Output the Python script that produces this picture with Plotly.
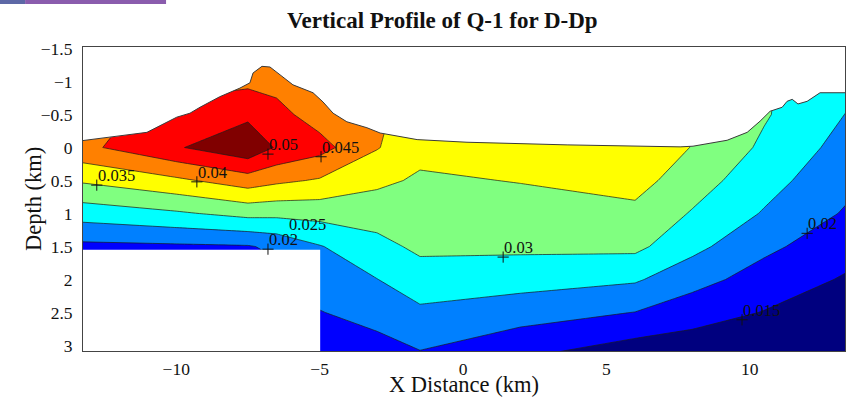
import plotly.graph_objects as go

# ---- Q^-1 section: node coordinates (km) and values ----
x_nodes = [-13.3, -10.0, -7.5, -6.5, -5.0, -3.0, -1.5, 2.0, 6.0, 8.0, 10.5, 13.35]
depth_nodes = [-1.55, -1.0, -0.5, 0.0, 0.5, 1.0, 1.5, 2.0, 2.5, 3.1]

q_row_m155 = [0.0420, 0.0420, 0.0420, 0.0420, 0.0405, 0.0405, 0.0380, 0.0370, 0.0390, 0.0352, 0.0310, 0.0280]
q_row_m100 = [0.0430, 0.0440, 0.0439, 0.0435, 0.0410, 0.0410, 0.0380, 0.0370, 0.0390, 0.0352, 0.0305, 0.0266]
q_row_m050 = [0.0440, 0.0460, 0.0489, 0.0465, 0.0428, 0.0410, 0.0375, 0.0370, 0.0390, 0.0352, 0.0305, 0.0249]
q_row_000 = [0.0437, 0.0495, 0.0538, 0.0495, 0.0468, 0.0403, 0.0365, 0.0365, 0.0388, 0.0348, 0.0291, 0.0232]
q_row_050 = [0.0356, 0.0390, 0.0426, 0.0410, 0.0395, 0.0361, 0.0343, 0.0352, 0.0368, 0.0323, 0.0269, 0.0214]
q_row_100 = [0.0272, 0.0293, 0.0315, 0.0313, 0.0317, 0.0321, 0.0325, 0.0329, 0.0338, 0.0296, 0.0246, 0.0195]
q_row_150 = [0.0188, 0.0192, 0.0196, 0.0211, 0.0247, 0.0285, 0.0310, 0.0310, 0.0312, 0.0264, 0.0211, 0.0170]
q_row_200 = [0.0120, 0.0120, 0.0130, 0.0180, 0.0223, 0.0249, 0.0277, 0.0270, 0.0256, 0.0218, 0.0179, 0.0145]
q_row_250 = [0.0100, 0.0100, 0.0110, 0.0160, 0.0198, 0.0218, 0.0241, 0.0222, 0.0199, 0.0172, 0.0148, 0.0120]
q_row_310 = [0.0080, 0.0080, 0.0090, 0.0140, 0.0172, 0.0180, 0.0198, 0.0162, 0.0124, 0.0120, 0.0111, 0.0090]
q_inv = [q_row_m155, q_row_m100, q_row_m050, q_row_000, q_row_050,
         q_row_100, q_row_150, q_row_200, q_row_250, q_row_310]

# contour levels and band colours (lowest band first)
level_start, level_end, level_step = 0.015, 0.0501, 0.005
band_colors = ["#00007F", "#0000FF", "#0080FF", "#00FFFF", "#80FF80",
               "#FFFF00", "#FF8000", "#FF0000", "#800000"]

# ground surface along the profile (x km, depth km)
topo_x = [-13.35, -12.21, -11.02, -9.98, -9.52, -9.17, -8.48, -7.78, -7.43, -7.32,
          -7.01, -6.73, -6.38, -5.93, -5.23, -4.88, -4.53, -4.05, -3.35, -2.89,
          -1.60, 0.14, 3.63, 7.57, 8.02, 9.21, 9.91, 10.36, 10.71, 11.13, 11.30,
          11.48, 11.68, 12.00, 12.45, 12.90, 13.40]
topo_d = [-0.10, -0.16, -0.23, -0.46, -0.52, -0.61, -0.77, -0.90, -0.98, -1.13,
          -1.23, -1.22, -1.10, -0.95, -0.83, -0.69, -0.52, -0.39, -0.30, -0.22,
          -0.12, -0.08, -0.04, -0.01, -0.02, -0.11, -0.23, -0.40, -0.55, -0.61, -0.70,
          -0.73, -0.66, -0.70, -0.83, -0.83, -0.83]

# region without coverage (left, below 1.55 km)
blank_x = [-13.4, -4.98]
blank_d = [1.55, 3.2]

# contour labels: text, anchor x, anchor depth, whether a '+' is drawn
label_text = ["0.035", "0.04", "0.05", "0.045", "0.025", "0.02", "0.03", "0.02", "0.015"]
label_x = [-12.77, -9.28, -6.80, -4.95, -6.10, -6.80, 1.40, 12.00, 9.73]
label_d = [0.57, 0.52, 0.10, 0.14, 1.31, 1.54, 1.66, 1.30, 2.61]
label_plus = [True, True, True, True, False, True, True, True, True]

x_ticks = [-10, -5, 0, 5, 10]
x_ticktext = ["\u221210", "\u22125", "0", "5", "10"]
y_ticks = [-1.5, -1, -0.5, 0, 0.5, 1, 1.5, 2, 2.5, 3]
y_ticktext = ["\u22121.5", "\u22121", "\u22120.5", "0", "0.5", "1", "1.5", "2", "2.5", "3"]

serif = "Liberation Serif, Times New Roman, serif"
n_bands = len(band_colors)
colorscale = [[i / (n_bands - 1), c] for i, c in enumerate(band_colors)]

fig = go.Figure()

fig.add_trace(go.Contour(
    x=x_nodes, y=depth_nodes, z=q_inv,
    autocontour=False,
    contours=dict(start=level_start, end=level_end, size=level_step, coloring="fill"),
    colorscale=colorscale, showscale=False,
    line=dict(color="#1a1a1a", width=0.7, smoothing=0),
    hoverinfo="skip",
))

# blank out the air above the surface
air_x = topo_x + [topo_x[-1], topo_x[0]]
air_d = topo_d + [-2.0, -2.0]
fig.add_trace(go.Scatter(x=air_x, y=air_d, fill="toself", fillcolor="white",
                         mode="none", hoverinfo="skip", showlegend=False))

# blank out the uncovered block
fig.add_trace(go.Scatter(
    x=[blank_x[0], blank_x[1], blank_x[1], blank_x[0], blank_x[0]],
    y=[blank_d[0], blank_d[0], blank_d[1], blank_d[1], blank_d[0]],
    fill="toself", fillcolor="white", mode="none", hoverinfo="skip", showlegend=False))

# surface outline
fig.add_trace(go.Scatter(x=topo_x, y=topo_d, mode="lines",
                         line=dict(color="#3a3a3a", width=1),
                         hoverinfo="skip", showlegend=False))

# label markers
px = [x for x, p in zip(label_x, label_plus) if p]
pd_ = [d for d, p in zip(label_d, label_plus) if p]
fig.add_trace(go.Scatter(x=px, y=pd_, mode="markers",
                         marker=dict(symbol="cross-thin", size=8,
                                     line=dict(color="#111111", width=1)),
                         hoverinfo="skip", showlegend=False))

annotations = []
for t, x, d in zip(label_text, label_x, label_d):
    annotations.append(dict(x=x, y=d, xref="x", yref="y", text=t, showarrow=False,
                            xanchor="left", yanchor="bottom", xshift=-1, yshift=-2,
                            font=dict(family=serif, size=16.5, color="#111111")))

annotations.append(dict(text="Vertical Profile of Q-1 for D-Dp", xref="paper", yref="paper",
                        x=0.4724, y=1.0888, xanchor="center", yanchor="middle", showarrow=False,
                        font=dict(family=serif, size=23, color="#111111", weight="bold")))
annotations.append(dict(text="X Distance (km)", xref="paper", yref="paper",
                        x=0.5, y=-0.155, xanchor="center", yanchor="bottom", showarrow=False,
                        borderpad=0,
                        font=dict(family=serif, size=22.5, color="#111111")))
annotations.append(dict(text="Depth (km)", xref="paper", yref="paper", textangle=-90,
                        x=-0.0656, y=0.5, xanchor="center", yanchor="middle", showarrow=False,
                        font=dict(family=serif, size=22.5, color="#111111")))

fig.update_layout(
    width=861, height=398,
    margin=dict(l=83, r=16, t=47, b=47),
    paper_bgcolor="white", plot_bgcolor="white",
    showlegend=False,
    annotations=annotations,
    shapes=[
        dict(type="rect", xref="paper", yref="paper", x0=-0.109, x1=-0.076,
             y0=1.1414, y1=1.16, fillcolor="#5d68a6", line=dict(width=0)),
        dict(type="rect", xref="paper", yref="paper", x0=-0.076, x1=0.109,
             y0=1.1414, y1=1.16, fillcolor="#8a5cad", line=dict(width=0)),
    ],
)
fig.update_xaxes(range=[-13.25, 13.32], tickvals=x_ticks, ticktext=x_ticktext,
                 showgrid=False, zeroline=False, showline=True, mirror=True,
                 linecolor="#444444", linewidth=1, ticks="", ticklabelstandoff=2,
                 tickfont=dict(family=serif, size=17.5, color="#111111"))
fig.update_yaxes(range=[3.083, -1.523], tickvals=y_ticks, ticktext=y_ticktext,
                 showgrid=False, zeroline=False, showline=True, mirror=True,
                 linecolor="#444444", linewidth=1, ticks="", ticklabelstandoff=6,
                 tickfont=dict(family=serif, size=17.5, color="#111111"))

fig.write_html("out.html")
